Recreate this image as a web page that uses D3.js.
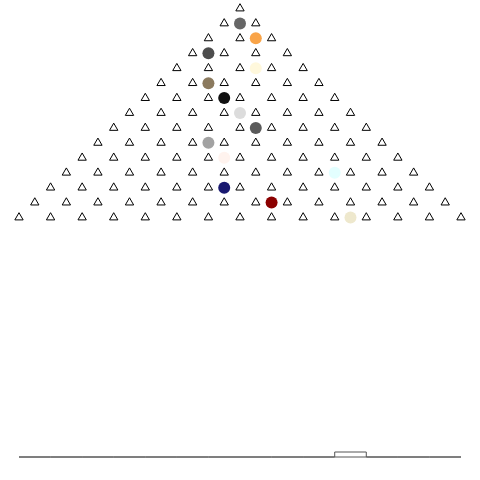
<!DOCTYPE html>
<html><head><meta charset="utf-8">
<script src="https://cdn.jsdelivr.net/npm/d3@7"></script>
<style>body{margin:0;background:#fff}svg{display:block}</style>
</head><body>
<svg id="c" width="480" height="480"></svg>
<script>
const numRows = 15;
const ballRows = [1,2,3,4,5,6,7,8,9,10,11,12,13,14];
const ballPos = [0,0.5,-1,0.5,-1,-0.5,0,0.5,-1,-0.5,3,-0.5,1,3.5];
const ballColors = ["#666666","#f9a448","#4d4d4d","#fff8dc","#8b7a5e","#111111","#dcdcdc","#5a5a5a","#a2a2a2","#fff3ee","#e3ffff","#191970","#8b0000","#eee8cd"];
const binEdges = [-7,-6,-5,-4,-3,-2,-1,0,1,2,3,4,5,6,7];
const binCounts = [0,0,0,0,0,0,0,0,0,0,1,0,0,0];

const svg = d3.select("#c");
const x = d3.scaleLinear().domain([-7,7]).range([19,461]);
const yRow = d3.scaleLinear().domain([0,14]).range([8.5,217.5]);
const yH = d3.scaleLinear().domain([0,40]).range([457,257]);

const pegs = [];
for (let r = 0; r < numRows; r++) for (let k = 0; k <= r; k++) pegs.push({r, p: k - r/2});

const tri = d3.symbol().type(d3.symbolTriangle).size(30);
svg.append("g").selectAll("path").data(pegs).join("path")
  .attr("d", tri)
  .attr("transform", d => `translate(${x(d.p)},${yRow(d.r)})`)
  .attr("fill","#fff").attr("stroke","#000").attr("stroke-width",1);

svg.append("g").selectAll("circle").data(ballRows).join("circle")
  .attr("cx", (d,i) => x(ballPos[i]))
  .attr("cy", d => yRow(d))
  .attr("r", 6)
  .attr("fill", (d,i) => ballColors[i]);

const bins = binCounts.map((c,i) => ({x0: binEdges[i], x1: binEdges[i+1], c}));
svg.append("g").selectAll("path").data(bins).join("path")
  .attr("d", d => {
    const a = x(d.x0), b = x(d.x1), t = yH(d.c), z = yH(0);
    return `M${a},${z}L${a},${t}L${b},${t}L${b},${z}Z`;
  })
  .attr("fill","#fff").attr("stroke","#555").attr("stroke-width",1);
</script>
</body></html>
